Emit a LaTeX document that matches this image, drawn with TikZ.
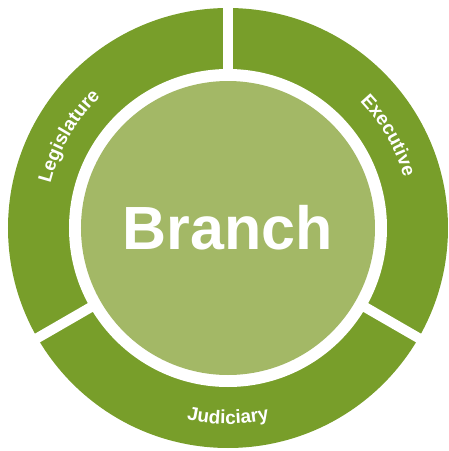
\documentclass[tikz,border=0pt]{standalone}
\usepackage{fontspec}
\setmainfont{Liberation Sans}
\newfontfamily\ringfont[LetterSpace=8]{Liberation Sans}
\usetikzlibrary{decorations.text}
\definecolor{ringgreen}{RGB}{120,158,42}
\definecolor{corelight}{RGB}{163,184,102}
\newcommand{\ringlabel}{\color{white}\ringfont\bfseries\fontsize{19}{19}\selectfont}

\begin{document}
\begin{tikzpicture}[x=1pt,y=1pt]
            \useasboundingbox (-228,-223) rectangle (221,228);
            % outer ring with white gap
            \fill[ringgreen] (0,0) circle (220);
            \fill[white] (0,0) circle (159);
            \foreach \a in {90,-30,210}
                \draw[white, line width=10] (0,0) -- (\a:230);
            % centre
            \node[circle, fill=corelight, minimum size=294, inner sep=0, text=white,
                  font=\bfseries\fontsize{61}{61}\selectfont] (core) at (0,0) {Branch};
            % branch labels along the ring
            \path[decorate, decoration={text along path, text align=center,
                  text={|\ringlabel|Legislature}}]
                (175:183) arc[start angle=175, end angle=125, radius=183];
            \path[decorate, decoration={text along path, text align=center,
                  text={|\ringlabel|Executive}}]
                (55:183) arc[start angle=55, end angle=5, radius=183];
            \path[decorate, decoration={text along path, text align=center,
                  text={|\ringlabel|Judiciary}}]
                (245:196) arc[start angle=245, end angle=295, radius=196];
        \end{tikzpicture}
\end{document}
